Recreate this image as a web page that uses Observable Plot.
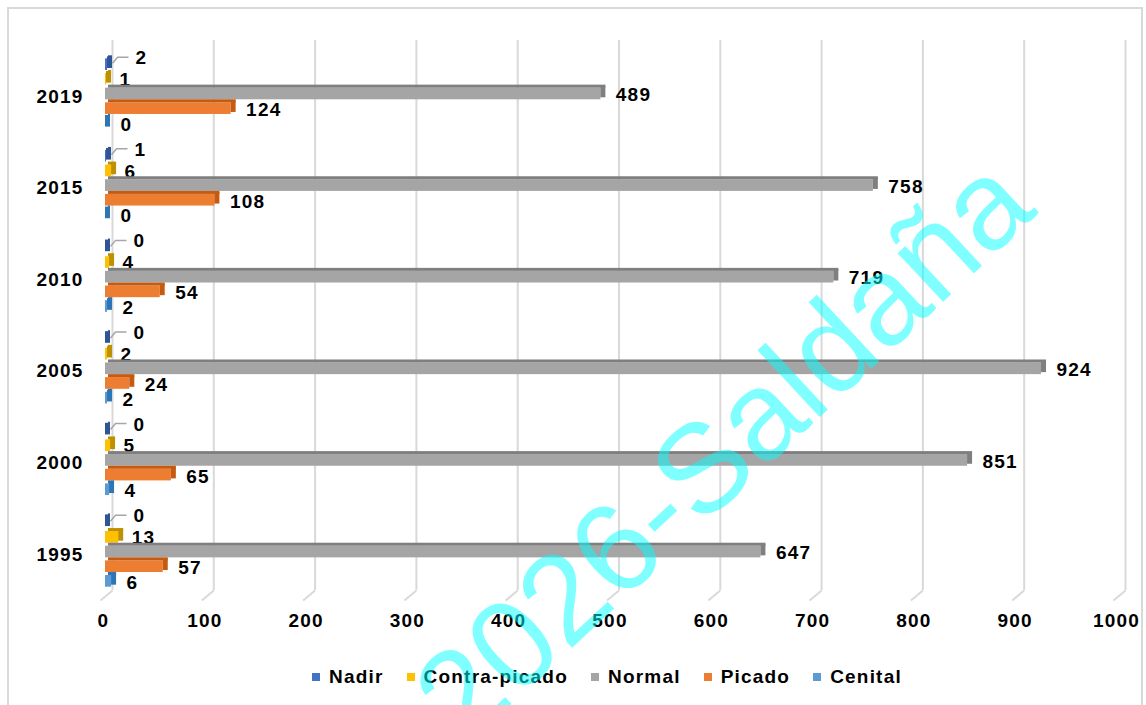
<!DOCTYPE html>
<html><head><meta charset="utf-8">
<script src="https://cdn.jsdelivr.net/npm/d3@7"></script>
<script src="https://cdn.jsdelivr.net/npm/@observablehq/plot@0.6"></script>
<style>
html,body{margin:0;padding:0;background:#fff;}
#wrap{position:relative;width:1146px;height:705px;overflow:hidden;font-family:"Liberation Sans",Arial,sans-serif;background:#fff;}
#frame{position:absolute;left:7px;top:7px;width:1132px;height:720px;border:2px solid #d9d9d9;}
#chart{position:absolute;left:0;top:0;}
#chart svg text{letter-spacing:1.2px;}
#legend{position:absolute;left:312px;top:665px;display:flex;align-items:center;font-weight:bold;font-size:19px;letter-spacing:1.2px;color:#000;line-height:24px;}
.item{display:flex;align-items:center;margin-right:23px;}
.sw{width:8px;height:8px;margin-right:9px;}
#wm{position:absolute;left:0;top:0;pointer-events:none;}
</style></head><body>
<div id="wrap">
  <div id="frame"></div>
  <div id="chart"></div>
  <div id="legend"></div>
  <svg id="wm" width="1146" height="705"><text x="752" y="480" text-anchor="middle" transform="rotate(-43 752 480)" font-family="Liberation Sans, Arial, sans-serif" font-size="126" fill="#00ffff" fill-opacity="0.5">2026-Saldaña</text></svg>
</div>
<script>
// ---- data ----
const years = ["1995", "2000", "2005", "2010", "2015", "2019"];
const seriesNames = ["Nadir", "Contra-picado", "Normal", "Picado", "Cenital"];
const nadir        = [0, 0, 0, 0, 1, 2];
const contraPicado = [13, 5, 2, 4, 6, 1];
const normal       = [647, 851, 924, 719, 758, 489];
const picado       = [57, 65, 24, 54, 108, 124];
const cenital      = [6, 4, 2, 2, 0, 0];
const xTicks = [0, 100, 200, 300, 400, 500, 600, 700, 800, 900, 1000];

// ---- styles ----
const colors = ["#4472c4", "#ffc000", "#a5a5a5", "#ed7d31", "#5b9bd5"];
const shades = ["#2f5597", "#bf9000", "#7f7f7f", "#c55a11", "#2e75b6"];

const W = 1146, H = 645, mt = 37, mb = 40, ml = 105, mr = 28;
const pad = 0.2;
const step = (H - mt - mb) / (years.length + pad);
const bandwidth = step * (1 - pad);
const sub = bandwidth / seriesNames.length;

const seriesValues = [nadir, contraPicado, normal, picado, cenital];
const labelDx = [28, 13, 15, 15, 15];
const labelDy = [-5, 2, 2.5, 3, 3];

const leaderSymbol = {draw(ctx) { ctx.moveTo(5, 0); ctx.lineTo(10, -6); ctx.lineTo(21, -6); }};
const floorSymbol = {draw(ctx) { ctx.moveTo(7, -15); ctx.lineTo(-5, -5); }};

const marks = [
  Plot.ruleX(xTicks, {x: d => d, dx: 7, insetTop: 3, insetBottom: 15, stroke: "#d9d9d9", strokeWidth: 2}),
  Plot.dot(xTicks, {x: d => d, frameAnchor: "bottom", symbol: floorSymbol, stroke: "#d9d9d9", strokeWidth: 2, fill: "none"})
];

seriesValues.forEach((vals, i) => {
  const rows = years.map((y, j) => ({year: y, v: vals[j]}));
  const top = i * sub, bottom = (seriesNames.length - 1 - i) * sub;
  marks.push(
    Plot.barX(rows, {x1: 0, x2: "v", y: "year", fill: colors[i], insetTop: top + 3, insetBottom: bottom}),
    Plot.barX(rows, {x1: 0, x2: "v", y: "year", fill: shades[i], insetTop: top, insetBottom: bottom + sub - 3, insetLeft: 3, insetRight: -5}),
    Plot.barX(rows, {x1: "v", x2: "v", y: "year", fill: shades[i], insetTop: top + 1, insetBottom: bottom + 2, insetLeft: 0, insetRight: -5}),
    Plot.text(rows, {x: "v", y: "year", text: d => String(d.v), textAnchor: "start", dx: labelDx[i], dy: (i - 2) * sub + labelDy[i], fill: "#000"})
  );
  if (i === 0) {
    marks.push(Plot.dot(rows, {x: "v", y: "year", dy: (i - 2) * sub, symbol: leaderSymbol, stroke: "#a6a6a6", strokeWidth: 1.5, fill: "none"}));
  }
});

marks.push(
  Plot.text(years, {y: d => d, frameAnchor: "left", textAnchor: "end", dx: -22, dy: 4, fill: "#000"}),
  Plot.text(xTicks, {x: d => d, frameAnchor: "bottom", dy: 21, dx: -2, text: d => String(d), fill: "#000"})
);

const chart = Plot.plot({
  width: W, height: H,
  marginTop: mt, marginBottom: mb, marginLeft: ml, marginRight: mr,
  style: {fontFamily: "Liberation Sans, Arial, sans-serif", fontSize: "19px", fontWeight: "bold", background: "transparent", overflow: "visible"},
  x: {domain: [0, 1000], axis: null},
  y: {domain: years.slice().reverse(), padding: pad, round: false, axis: null},
  marks
});
document.getElementById("chart").appendChild(chart);

const legend = document.getElementById("legend");
seriesNames.forEach((name, i) => {
  const item = document.createElement("div");
  item.className = "item";
  const sw = document.createElement("span");
  sw.className = "sw";
  sw.style.background = colors[i];
  const label = document.createElement("span");
  label.textContent = name;
  item.appendChild(sw); item.appendChild(label);
  legend.appendChild(item);
});
</script>
</body></html>
